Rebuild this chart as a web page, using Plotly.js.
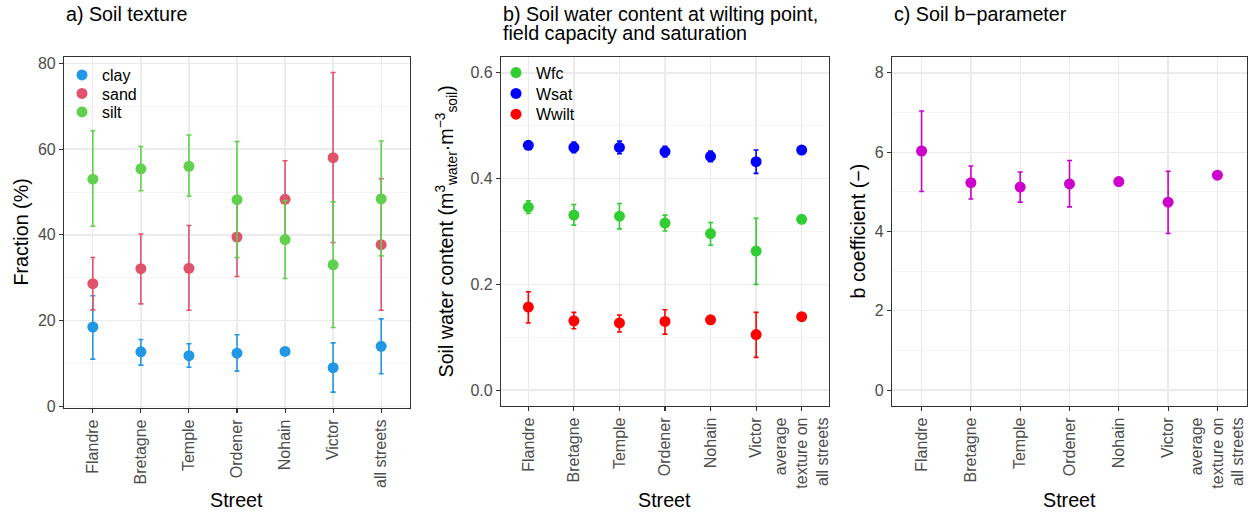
<!DOCTYPE html>
<html>
<head>
<meta charset="utf-8">
<script src="https://cdn.plot.ly/plotly-3.0.1.min.js"></script>
<style>html,body{margin:0;padding:0;background:#fff}#chart{width:1251px;height:515px}</style>
</head>
<body>
<div id="chart"></div>
<script>
// ---------- data ----------
const streetsA = ['Flandre','Bretagne','Temple','Ordener','Nohain','Victor','all streets'];
const streetsBC = ['Flandre','Bretagne','Temple','Ordener','Nohain','Victor','average<br>texture on<br>all streets'];

// a) Soil texture (%)
const clayMean = [18.5, 12.7, 11.8, 12.4, 12.8, 9.0, 14.0];
const clayLow  = [11.0, 9.6, 9.1, 8.2, null, 3.3, 7.6];
const clayHigh = [25.8, 15.6, 14.6, 16.7, null, 14.8, 20.4];
const sandMean = [28.6, 32.1, 32.2, 39.5, 48.3, 58.0, 37.7];
const sandLow  = [22.5, 23.9, 22.4, 30.3, 39.3, 38.2, 22.4];
const sandHigh = [34.7, 40.2, 42.2, 48.7, 57.3, 77.9, 53.1];
const siltMean = [53.0, 55.4, 56.0, 48.2, 38.9, 33.0, 48.4];
const siltLow  = [42.0, 50.3, 49.0, 34.7, 29.8, 18.4, 35.1];
const siltHigh = [64.3, 60.6, 63.3, 61.8, 48.0, 47.7, 61.9];

// b) Soil water content (m3/m3)
const wfcMean  = [0.346, 0.331, 0.329, 0.316, 0.296, 0.263, 0.323];
const wfcLow   = [0.334, 0.312, 0.305, 0.301, 0.274, 0.200, null];
const wfcHigh  = [0.358, 0.351, 0.353, 0.331, 0.317, 0.325, null];
const wsatMean = [0.463, 0.459, 0.459, 0.451, 0.442, 0.432, 0.454];
const wsatLow  = [0.457, 0.449, 0.447, 0.441, 0.432, 0.410, null];
const wsatHigh = [0.469, 0.469, 0.471, 0.461, 0.452, 0.454, null];
const wwiltMean= [0.157, 0.131, 0.127, 0.130, 0.133, 0.105, 0.139];
const wwiltLow = [0.127, 0.116, 0.110, 0.106, null, 0.062, null];
const wwiltHigh= [0.186, 0.147, 0.142, 0.152, null, 0.147, null];

// c) b-parameter
const bMean = [6.03, 5.23, 5.12, 5.20, 5.26, 4.74, 5.42];
const bLow  = [5.01, 4.82, 4.74, 4.62, null, 3.95, null];
const bHigh = [7.04, 5.65, 5.50, 5.79, null, 5.52, null];

// ---------- helpers ----------
const W = 1251, H = 515;
const FONT = 'Liberation Sans, Arial, sans-serif';
const plus  = (m, h) => m.map((v, i) => h[i] == null ? null : h[i] - v);
const minus = (m, l) => m.map((v, i) => l[i] == null ? null : v - l[i]);

function series(x, mean, low, high, name, color, xa, ya, legend) {
  return {
    type: 'scatter', mode: 'markers', x: x, y: mean, name: name,
    xaxis: xa, yaxis: ya, legend: legend, showlegend: true,
    marker: {color: color, size: 11},
    error_y: {type: 'data', symmetric: false, array: plus(mean, high), arrayminus: minus(mean, low),
              color: color, thickness: 1.6, width: 2.5},
    cliponaxis: false, hoverinfo: 'x+y'
  };
}

const data = [
  series(streetsA, clayMean, clayLow, clayHigh, 'clay', '#2297E6', 'x', 'y', 'legend'),
  series(streetsA, sandMean, sandLow, sandHigh, 'sand', '#DF536B', 'x', 'y', 'legend2'),
  series(streetsA, siltMean, siltLow, siltHigh, 'silt', '#61D04F', 'x', 'y', 'legend3'),
  series(streetsBC, wfcMean, wfcLow, wfcHigh, 'Wfc', '#32CD32', 'x2', 'y2', 'legend4'),
  series(streetsBC, wsatMean, wsatLow, wsatHigh, 'Wsat', '#0000FF', 'x2', 'y2', 'legend5'),
  series(streetsBC, wwiltMean, wwiltLow, wwiltHigh, 'Wwilt', '#FF0000', 'x2', 'y2', 'legend6'),
  Object.assign(series(streetsBC, bMean, bLow, bHigh, 'b', '#CD00CD', 'x3', 'y3', 'legend'), {showlegend: false})
];

function xd(l, r) { return [l / W, r / W]; }
function yd(t, b) { return [1 - b / H, 1 - t / H]; }

const axBase = {
  showline: true, mirror: true, linecolor: '#333333', linewidth: 1.1,
  ticks: 'outside', ticklen: 4, tickwidth: 1.1, tickcolor: '#333333',
  tickfont: {family: FONT, size: 16, color: '#4D4D4D'},
  showgrid: true, gridcolor: '#EBEBEB', gridwidth: 1.3, zeroline: false, fixedrange: true
};
function xax(domain, anchor) {
  return Object.assign({}, axBase, {domain: domain, anchor: anchor, type: 'category',
    range: [-0.6, 6.6], tickangle: -90, automargin: false});
}
function yax(domain, anchor, range, dtick, fmt) {
  return Object.assign({}, axBase, {domain: domain, anchor: anchor, range: range,
    dtick: dtick, tick0: 0, automargin: false, tickformat: fmt,
    minor: {dtick: dtick / 2, tick0: 0, showgrid: true, gridcolor: '#F3F3F3', gridwidth: 0.8, ticks: ''}});
}

const legBase = {bgcolor: 'rgba(0,0,0,0)', borderwidth: 0, xanchor: 'left', yanchor: 'middle',
  font: {family: FONT, size: 16, color: '#000'}, tracegroupgap: 0, itemclick: false};
function leg(x, y) { return Object.assign({}, legBase, {x: x / W, y: 1 - y / H}); }

function ann(text, x, y, opts) {
  return Object.assign({text: text, x: x / W, y: 1 - y / H, xref: 'paper', yref: 'paper',
    showarrow: false, font: {family: FONT, size: 19.7, color: '#000'}}, opts || {});
}

const layout = {
  width: W, height: H, margin: {l: 0, r: 0, t: 0, b: 0},
  paper_bgcolor: '#fff', plot_bgcolor: '#fff', showlegend: true,
  xaxis:  xax(xd(64, 410), 'y'),
  yaxis:  yax(yd(57, 408), 'x', [-0.4, 81.5], 20, ''),
  xaxis2: xax(xd(501, 829), 'y2'),
  yaxis2: yax(yd(57, 406), 'x2', [-0.03, 0.63], 0.2, '.1f'),
  xaxis3: xax(xd(892, 1247), 'y3'),
  yaxis3: yax(yd(57, 406), 'x3', [-0.4, 8.4], 2, ''),
  legend:  leg(62, 75),
  legend2: leg(62, 93.5),
  legend3: leg(62, 112),
  legend4: leg(496, 72.7),
  legend5: leg(496, 93.5),
  legend6: leg(496, 114.3),
  annotations: [
    ann('a) Soil texture', 64, 14.5, {xanchor: 'left', yanchor: 'middle'}),
    ann('b) Soil water content at wilting point,', 501, 14.5, {xanchor: 'left', yanchor: 'middle'}),
    ann('field capacity and saturation', 501, 33.3, {xanchor: 'left', yanchor: 'middle'}),
    ann('c) Soil b\u2212parameter', 892, 14.5, {xanchor: 'left', yanchor: 'middle'}),
    ann('Street', 237, 500, {xanchor: 'center', yanchor: 'middle'}),
    ann('Street', 665, 500, {xanchor: 'center', yanchor: 'middle'}),
    ann('Street', 1069.5, 500, {xanchor: 'center', yanchor: 'middle'}),
    ann('Fraction (%)', 20, 232.5, {xanchor: 'center', yanchor: 'middle', textangle: -90}),
    ann('Soil water content (m<sup>3</sup><sub>water</sub>\u00B7m<sup>\u22123</sup><sub>soil</sub>)', 446, 231.5,
        {xanchor: 'center', yanchor: 'middle', textangle: -90}),
    ann('b coefficient (\u2212)', 858, 231.5, {xanchor: 'center', yanchor: 'middle', textangle: -90})
  ]
};

Plotly.newPlot('chart', data, layout, {staticPlot: true, displayModeBar: false});
</script>
</body>
</html>
